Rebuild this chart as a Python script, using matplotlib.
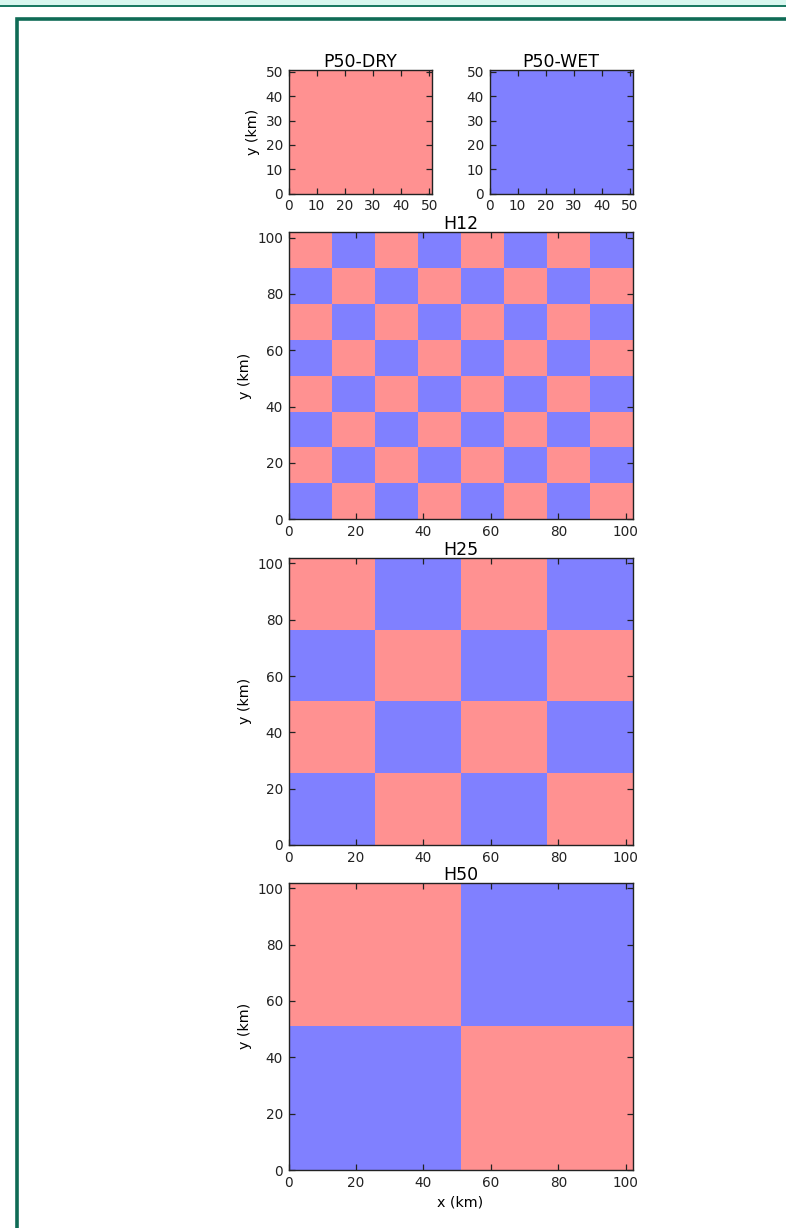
import matplotlib
matplotlib.use("Agg")
import matplotlib.pyplot as plt
from matplotlib.colors import ListedColormap
from matplotlib.patches import Rectangle
import numpy as np

# land-surface patterns: 1 = dry (red), 0 = wet (blue); rows listed bottom to top
p50_dry = [[1]]
p50_wet = [[0]]
h12 = [
    [0, 1, 0, 1, 0, 1, 0, 1],
    [1, 0, 1, 0, 1, 0, 1, 0],
    [0, 1, 0, 1, 0, 1, 0, 1],
    [1, 0, 1, 0, 1, 0, 1, 0],
    [0, 1, 0, 1, 0, 1, 0, 1],
    [1, 0, 1, 0, 1, 0, 1, 0],
    [0, 1, 0, 1, 0, 1, 0, 1],
    [1, 0, 1, 0, 1, 0, 1, 0],
]
h25 = [
    [0, 1, 0, 1],
    [1, 0, 1, 0],
    [0, 1, 0, 1],
    [1, 0, 1, 0],
]
h50 = [
    [0, 1],
    [1, 0],
]

small_domain = 51.0   # km
big_domain = 102.0    # km
small_ticks = [0, 10, 20, 30, 40, 50]
big_ticks = [0, 20, 40, 60, 80, 100]

cmap = ListedColormap(["#8080ff", "#ff9191"])

W, H = 786, 1228
fig = plt.figure(figsize=(W / 100, H / 100), dpi=100)
plt.rcParams["font.family"] = "DejaVu Sans"

# page frame around the figure
fig.patches.append(Rectangle((0, 1 - 5 / H), 1, 5 / H, transform=fig.transFigure,
                             facecolor="#d8f7ef", edgecolor="none"))
fig.patches.append(Rectangle((0, 1 - 7 / H), 1, 2 / H, transform=fig.transFigure,
                             facecolor="#1b7a63", edgecolor="none"))
fig.patches.append(Rectangle((16.5 / W, -0.05), 1.2, 1 - 18.5 / H + 0.05,
                             transform=fig.transFigure, facecolor="none",
                             edgecolor="#0f6b55", linewidth=2.6))


def box(left, top, right, bottom):
    return [left / W, 1 - bottom / H, (right - left) / W, (bottom - top) / H]


def draw(ax, grid, domain, ticks, title, ylabel=True, xlabel=False):
    grid = np.array(grid)
    ny, nx = grid.shape
    xe = np.linspace(0, domain, nx + 1)
    ye = np.linspace(0, domain, ny + 1)
    ax.pcolormesh(xe, ye, grid, cmap=cmap, vmin=0, vmax=1)
    ax.set_xlim(0, domain)
    ax.set_ylim(0, domain)
    ax.set_xticks(ticks)
    ax.set_yticks(ticks)
    ax.tick_params(direction="in", top=True, right=True, length=4, width=0.9,
                   labelsize=9.8, pad=4, colors="#222222", labelcolor="#222222")
    for s in ax.spines.values():
        s.set_linewidth(1.0)
        s.set_color("#222222")
    ax.set_title(title, fontsize=12.5, pad=2)
    if ylabel:
        ax.set_ylabel("y (km)", fontsize=10.3)
    if xlabel:
        ax.set_xlabel("x (km)", fontsize=10.3)


ax1 = fig.add_axes(box(288.5, 69.5, 432, 193.5))
draw(ax1, p50_dry, small_domain, small_ticks, "P50-DRY")
ax2 = fig.add_axes(box(489.5, 69.5, 632.5, 193.5))
draw(ax2, p50_wet, small_domain, small_ticks, "P50-WET", ylabel=False)
ax3 = fig.add_axes(box(288.5, 232, 632.5, 519.3))
draw(ax3, h12, big_domain, big_ticks, "H12")
ax4 = fig.add_axes(box(288.5, 557.7, 632.5, 845))
draw(ax4, h25, big_domain, big_ticks, "H25")
ax5 = fig.add_axes(box(288.5, 882.5, 632.5, 1170))
draw(ax5, h50, big_domain, big_ticks, "H50", xlabel=True)

plt.savefig("out.png", dpi=100)
plt.close()
